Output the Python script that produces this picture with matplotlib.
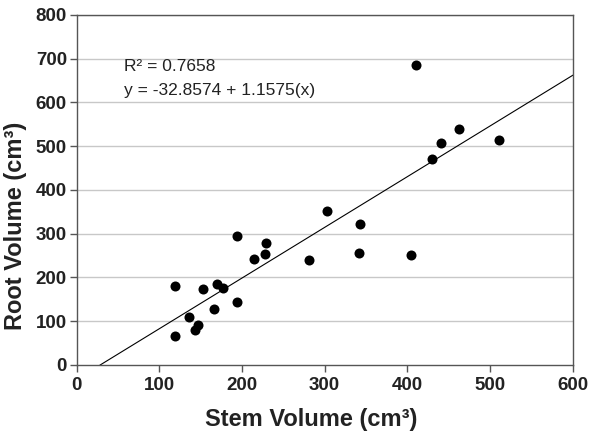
import numpy as np
import matplotlib
matplotlib.use("Agg")
import matplotlib.pyplot as plt

plt.rcParams['font.family'] = ['Liberation Sans', 'DejaVu Sans']

# stem volume (cm3) vs root volume (cm3)
stem_volume = [410.5, 462.5, 440.3, 430.2, 510.5, 302.8, 342.7, 341.5, 404.0, 280.6,
               194.0, 229.0, 228.2, 215.0, 170.2, 177.0, 153.2, 119.0, 194.0, 166.5,
               135.9, 147.2, 142.7, 119.0]
root_volume = [685.7, 538.0, 506.0, 469.6, 513.0, 351.6, 322.7, 256.5, 252.0, 239.7,
               294.5, 278.5, 254.2, 242.0, 185.0, 175.8, 172.8, 179.6, 143.8, 127.0,
               108.8, 91.3, 79.9, 67.0]

intercept = -32.8574
slope = 1.1575
r_squared = 0.7658

x_ticks = [0, 100, 200, 300, 400, 500, 600]
y_ticks = [0, 100, 200, 300, 400, 500, 600, 700, 800]

fig = plt.figure(figsize=(6.14, 4.34), dpi=100)
ax = fig.add_axes([0.1249, 0.159, 0.8078, 0.807])

ax.set_xlim(0, 600)
ax.set_ylim(0, 800)

for yv in y_ticks[1:]:
    ax.axhline(yv, color="#c8c8c8", lw=1.0, zorder=0)

# regression line
x0 = -intercept / slope
xl = np.array([x0, 600])
ax.plot(xl, intercept + slope * xl, color="black", lw=0.8, zorder=2)

ax.scatter(stem_volume, root_volume, s=52, color="black", zorder=3, linewidths=0)

ax.text(0.095, 0.851, f"R² = {r_squared}", transform=ax.transAxes,
        fontsize=12.5, color="#222222", va="center", ha="left")
ax.text(0.095, 0.785, f"y = {intercept} + {slope}(x)", transform=ax.transAxes,
        fontsize=12.5, color="#222222", va="center", ha="left")

ax.set_xticks(x_ticks)
ax.set_yticks(y_ticks)
ax.tick_params(axis="both", direction="out", length=5, width=1, color="#555555",
               labelsize=13.5, pad=2)
ax.tick_params(axis="x", pad=4)
for lab in ax.get_xticklabels() + ax.get_yticklabels():
    lab.set_fontweight("bold")
    lab.set_color("#222222")

for sp in ax.spines.values():
    sp.set_color("#555555")
    sp.set_linewidth(1.0)

ax.set_xlabel("Stem Volume (cm³)", fontsize=17, fontweight="bold", color="#222222")
ax.set_ylabel("Root Volume (cm³)", fontsize=17, fontweight="bold", color="#222222")
ax.xaxis.set_label_coords(0.472, -0.123)
ax.yaxis.set_label_coords(-0.100, 0.398)

fig.savefig("out.png", dpi=100)
